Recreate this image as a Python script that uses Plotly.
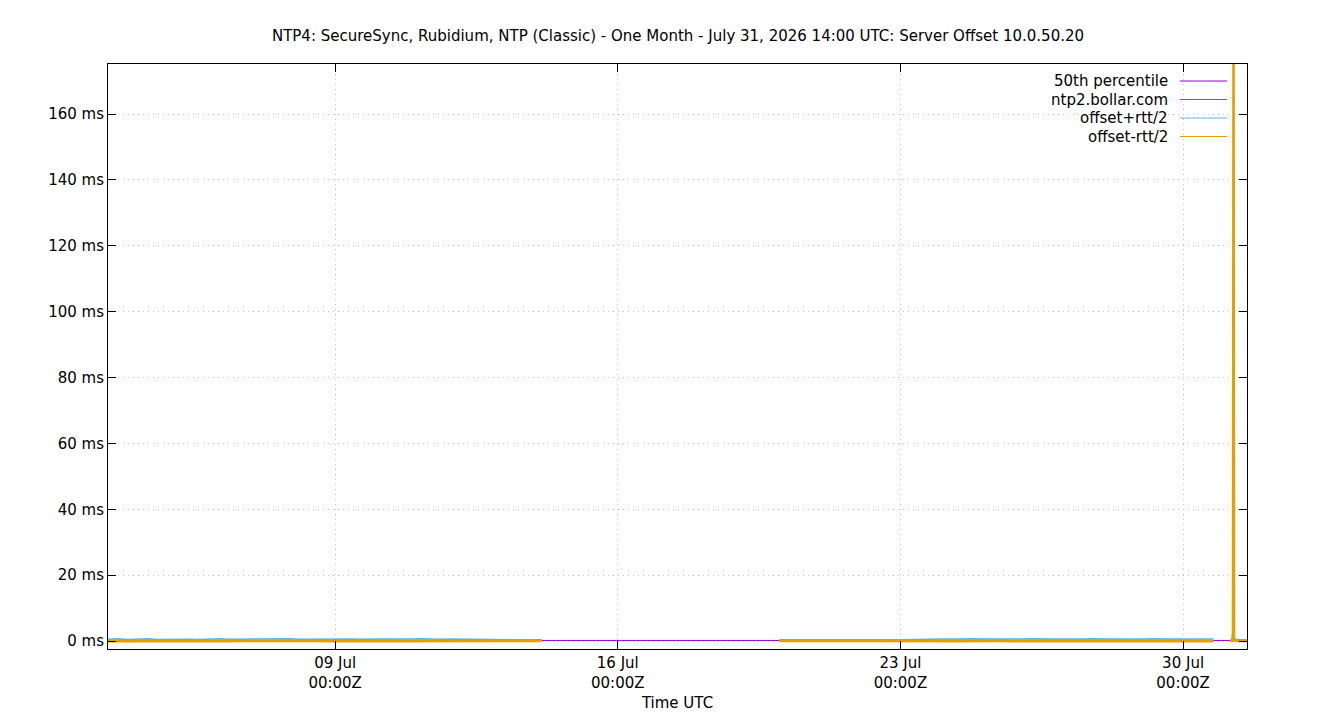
import plotly.graph_objects as go
import pandas as pd

# segment 1: Jul 3 09:00 -> Jul 14 03:00, every 6 h
seg1_times = list(pd.date_range("2026-07-03 09:00", "2026-07-14 03:00", freq="6h"))
seg1_offset = [0.25,0.30,0.22,0.28,0.31,0.24,0.27,0.30,0.26,0.23,0.29,0.32,0.25,0.27,0.30,0.24,0.28,0.26,0.31,0.25,0.27,0.29,0.24,0.28,0.30,0.26,0.23,0.27,0.29,0.25,0.28,0.31,0.24,0.26,0.30,0.27,0.25,0.28,0.22,0.24,0.21,0.23,0.20,0.22]
seg1_hi = [0.55,0.70,0.50,0.62,0.68,0.52,0.60,0.66,0.58,0.50,0.64,0.70,0.55,0.60,0.66,0.52,0.62,0.58,0.68,0.55,0.60,0.64,0.52,0.62,0.66,0.58,0.50,0.60,0.64,0.55,0.62,0.68,0.52,0.58,0.66,0.60,0.46,0.44,0.40,0.42,0.38,0.41,0.37,0.39]
seg1_lo = [-0.05,0.00,-0.08,-0.02,0.04,-0.06,0.00,0.02,-0.04,-0.08,0.00,0.05,-0.05,0.00,0.03,-0.06,-0.02,-0.04,0.04,-0.05,0.00,0.02,-0.06,-0.02,0.03,-0.04,-0.08,0.00,0.02,-0.05,-0.02,0.04,-0.06,-0.04,0.03,0.00,0.04,0.08,0.04,0.06,0.04,0.05,0.03,0.05]
# segment 2: Jul 20 00:00 -> Jul 30 18:00
seg2_times = list(pd.date_range("2026-07-20 00:00", "2026-07-30 18:00", freq="6h"))
seg2_offset = [0.22,0.20,0.23,0.21,0.24,0.22,0.20,0.23,0.21,0.22,0.24,0.20,0.23,0.22,0.21,0.27,0.30,0.26,0.29,0.31,0.27,0.28,0.30,0.26,0.29,0.31,0.27,0.28,0.30,0.26,0.29,0.31,0.27,0.28,0.30,0.26,0.29,0.31,0.27,0.28,0.30,0.26,0.29,0.28]
seg2_hi = [0.40,0.38,0.42,0.39,0.44,0.40,0.37,0.42,0.39,0.40,0.44,0.38,0.42,0.40,0.39,0.58,0.66,0.56,0.62,0.68,0.58,0.60,0.66,0.56,0.62,0.68,0.58,0.60,0.66,0.56,0.62,0.68,0.58,0.60,0.66,0.56,0.62,0.68,0.58,0.60,0.66,0.56,0.62,0.60]
seg2_lo = [0.04,0.02,0.05,0.03,0.06,0.04,0.02,0.05,0.03,0.04,0.06,0.02,0.05,0.04,0.03,-0.04,0.00,-0.06,-0.02,0.04,-0.04,-0.02,0.00,-0.06,-0.02,0.04,-0.04,-0.02,0.00,-0.06,-0.02,0.04,-0.04,-0.02,0.00,-0.06,-0.02,0.04,-0.04,-0.02,0.00,-0.06,-0.02,-0.02]
# segment 3: spike on Jul 31
seg3_times = ["2026-07-31 04:00","2026-07-31 05:00","2026-07-31 05:40","2026-07-31 06:00","2026-07-31 06:20","2026-07-31 08:00","2026-07-31 11:00","2026-07-31 14:00"]
seg3_offset = [0.15,0.20,2.0,100.0,0.5,0.25,0.22,0.20]
seg3_hi = [0.30,0.40,3.0,146.0,0.8,0.45,0.40,0.38]
seg3_lo = [0.00,0.00,1.0,200.0,0.2,0.05,0.04,0.02]
p50_value = 0.2

def join(a, b, c):
    return a + [None] + b + [None] + c

times = join(seg1_times, seg2_times, [pd.Timestamp(t) for t in seg3_times])
times[len(seg1_times)] = pd.Timestamp("2026-07-14 04:00")
times[len(seg1_times) + len(seg2_times) + 1] = pd.Timestamp("2026-07-30 20:00")
offset = join(seg1_offset, seg2_offset, seg3_offset)
hi = join(seg1_hi, seg2_hi, seg3_hi)
lo = join(seg1_lo, seg2_lo, seg3_lo)

x0 = pd.Timestamp("2026-07-03 09:00")
x1 = pd.Timestamp("2026-07-31 14:00")

names = ["50th percentile", "ntp2.bollar.com", "offset+rtt/2", "offset-rtt/2"]
colors = ["#9400d3", "#009e73", "#56b4e9", "#e69f00"]

fig = go.Figure()
fig.add_trace(go.Scatter(x=[x0, x1], y=[p50_value, p50_value], mode="lines", line=dict(color=colors[0], width=1)))
fig.add_trace(go.Scatter(x=times, y=offset, mode="lines", line=dict(color=colors[1], width=1), connectgaps=False))
fig.add_trace(go.Scatter(x=times, y=hi, mode="lines", line=dict(color=colors[2], width=1.5), connectgaps=False))
fig.add_trace(go.Scatter(x=times, y=lo, mode="lines", line=dict(color=colors[3], width=2.5), connectgaps=False))

ann = []
shapes = []
for i, (n, c) in enumerate(zip(names, colors)):
    y = 73 + i * 18.5
    yp = 1 - (y - 56) / (641 - 56)
    ann.append(dict(text=n, x=(1162 - 100) / 1139, y=yp, xref="paper", yref="paper", xanchor="right", yanchor="middle",
                    showarrow=False, font=dict(size=15, color="black")))
    shapes.append(dict(type="line", xref="paper", yref="paper", x0=(1172 - 100) / 1139, x1=(1219 - 100) / 1139,
                       y0=yp, y1=yp, line=dict(color=c, width=1)))

grid = "#c0c0c0"
fig.update_layout(
    width=1340, height=720, showlegend=False,
    margin=dict(l=100, r=101, t=56, b=79, autoexpand=False),
    paper_bgcolor="white", plot_bgcolor="white",
    font=dict(family="DejaVu Sans", size=15, color="black"),
    title=dict(text="NTP4: SecureSync, Rubidium, NTP (Classic) - One Month - July 31, 2026 14:00 UTC: Server Offset 10.0.50.20",
               x=0.5, y=1 - 28 / 720, xanchor="center", yanchor="middle", font=dict(size=15)),
    annotations=ann, shapes=shapes,
    xaxis=dict(range=[x0, x1], automargin=False, tickvals=["2026-07-09", "2026-07-16", "2026-07-23", "2026-07-30"],
               ticktext=["09 Jul<br>00:00Z", "16 Jul<br>00:00Z", "23 Jul<br>00:00Z", "30 Jul<br>00:00Z"],
               showgrid=True, gridcolor=grid, griddash="1px,4px", gridwidth=1, ticks="inside", ticklen=8, tickcolor="black",
               showline=True, linecolor="black", mirror="ticks", zeroline=False, tickfont=dict(size=15),
               title=dict(text="Time UTC", standoff=6, font=dict(size=15))),
    yaxis=dict(range=[-2.4, 175.2], automargin=False, tickvals=[0, 20, 40, 60, 80, 100, 120, 140, 160],
               ticktext=[f"{v} ms" for v in [0, 20, 40, 60, 80, 100, 120, 140, 160]],
               showgrid=True, gridcolor=grid, griddash="1px,4px", gridwidth=1, ticks="inside", ticklen=8, tickcolor="black",
               showline=True, linecolor="black", mirror="ticks", zeroline=False, tickfont=dict(size=15)),
)
fig.write_html("out.html")
